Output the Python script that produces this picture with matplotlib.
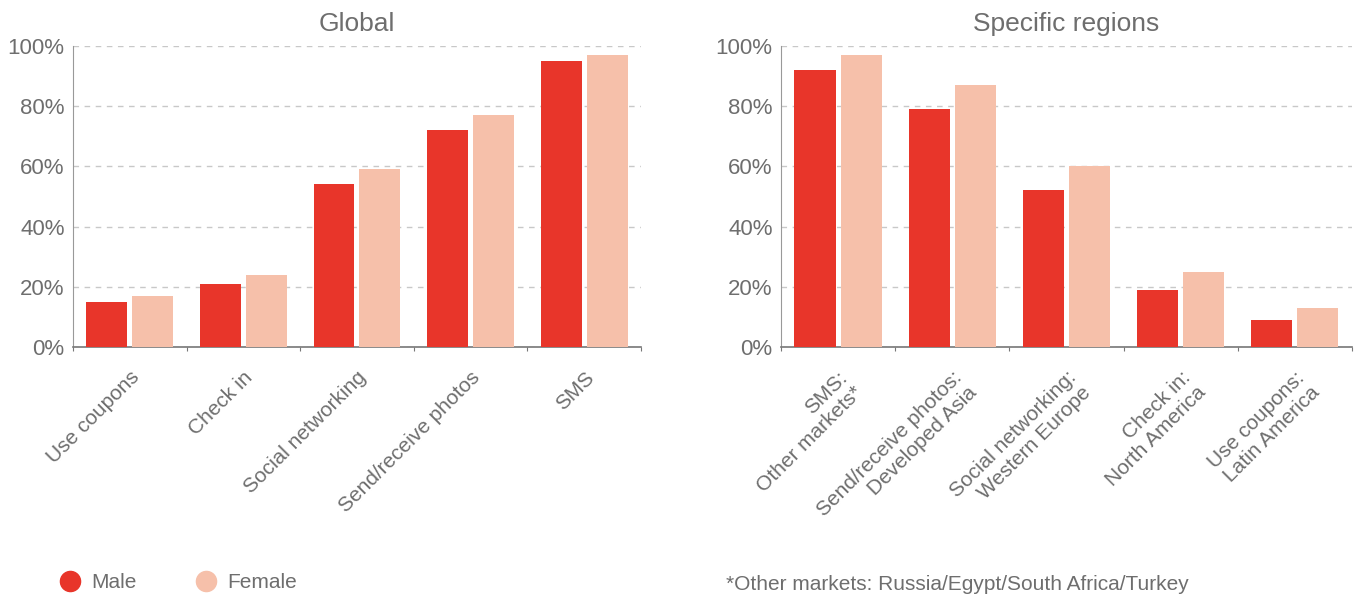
import numpy as np
import matplotlib
matplotlib.use("Agg")
import matplotlib.pyplot as plt
from matplotlib.lines import Line2D
from matplotlib.ticker import PercentFormatter

plt.rcParams['font.family'] = ['Liberation Sans', 'DejaVu Sans']

# usage share by gender, in percent
global_labels = ["Use coupons", "Check in", "Social networking", "Send/receive photos", "SMS"]
global_male = [15, 21, 54, 72, 95]
global_female = [17, 24, 59, 77, 97]

region_labels = ["SMS:\nOther markets*", "Send/receive photos:\nDeveloped Asia",
                 "Social networking:\nWestern Europe", "Check in:\nNorth America",
                 "Use coupons:\nLatin America"]
region_male = [92, 79, 52, 19, 9]
region_female = [97, 87, 60, 25, 13]

RED = "#e8352a"
PINK = "#f6c0aa"
TXT = "#6e6e6e"

fig = plt.figure(figsize=(13.54, 5.96), dpi=100)
ax1 = fig.add_axes([0.0539, 0.4178, 0.4195, 0.505])
ax2 = fig.add_axes([0.5768, 0.4178, 0.4217, 0.505])


def draw_panel(ax, title, labels, male, female):
    x = np.arange(len(labels)) + 0.5
    w = 0.36
    ax.bar(x - w / 2 - 0.022, male, width=w, color=RED, zorder=3)
    ax.bar(x + w / 2 + 0.022, female, width=w, color=PINK, zorder=3)
    ax.set_xlim(0, len(labels))
    ax.set_ylim(0, 100)
    ax.set_yticks(range(0, 101, 20))
    ax.yaxis.set_major_formatter(PercentFormatter(decimals=0))
    ax.set_xticks(range(len(labels) + 1))
    ax.set_xticklabels([])
    ax.set_xticks(x, minor=True)
    ax.set_xticklabels(labels, minor=True, rotation=45, ha="right",
                       rotation_mode="anchor", fontsize=15, color=TXT,
                       linespacing=1.15)
    ax.tick_params(axis="x", which="minor", length=0, pad=15)
    ax.tick_params(axis="x", which="major", length=3, color="#777777", direction="out")
    ax.tick_params(axis="y", length=0, labelsize=16, labelcolor=TXT, pad=6)
    ax.grid(axis="y", color="#c8c8c8", linestyle=(0, (4, 4)), linewidth=1, zorder=0)
    for s in ["top", "right"]:
        ax.spines[s].set_visible(False)
    ax.spines["left"].set_color("#999999")
    ax.spines["bottom"].set_color("#777777")
    ax.spines["bottom"].set_linewidth(1.2)
    ax.set_title(title, fontsize=19, color=TXT, pad=11)


draw_panel(ax1, "Global", global_labels, global_male, global_female)
draw_panel(ax2, "Specific regions", region_labels, region_male, region_female)

handles = [Line2D([], [], marker="o", linestyle="", markersize=14.5, color=RED),
           Line2D([], [], marker="o", linestyle="", markersize=14.5, color=PINK)]
fig.legend(handles, ["Male", "Female"], loc="center left", bbox_to_anchor=(0.030, 0.022),
           ncol=2, frameon=False, fontsize=15, labelcolor=TXT, handlelength=1.0,
           handletextpad=0.55, columnspacing=2.8)

fig.text(0.536, 0.02, "*Other markets: Russia/Egypt/South Africa/Turkey",
         fontsize=15, color=TXT, va="center")

fig.savefig("out.png", dpi=100)
